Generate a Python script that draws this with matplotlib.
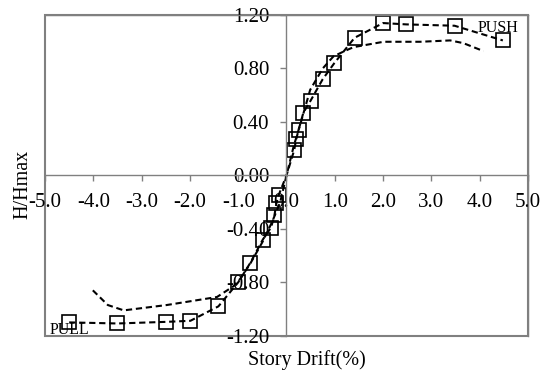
import matplotlib.pyplot as plt
from matplotlib.patches import Rectangle

# envelope with markers (pull side then push side)
drift_env = [-4.50, -3.50, -2.50, -1.99, -1.41, -1.00, -0.75, -0.49, -0.32, -0.25, -0.21, -0.165,
             0.0, 0.16, 0.20, 0.25, 0.35, 0.50, 0.75, 0.99, 1.41, 2.00, 2.48, 3.48, 4.48]
ratio_env = [-1.10, -1.108, -1.096, -1.088, -0.98, -0.80, -0.655, -0.48, -0.39, -0.30, -0.21, -0.15,
             0.0, 0.19, 0.27, 0.34, 0.47, 0.56, 0.72, 0.84, 1.03, 1.14, 1.13, 1.12, 1.01]

# second curve, no markers
drift_b = [-4.01, -3.70, -3.37, -2.48, -1.44, -1.10, -0.95, -0.75, -0.50, -0.30, -0.13, 0.0,
           0.15, 0.30, 0.49, 0.75, 0.97, 1.20, 1.39, 2.01, 2.77, 3.39, 3.66, 4.08]
ratio_b = [-0.86, -0.97, -1.01, -0.97, -0.91, -0.83, -0.77, -0.66, -0.50, -0.35, -0.20, 0.0,
           0.22, 0.40, 0.64, 0.80, 0.89, 0.93, 0.96, 1.00, 1.00, 1.01, 0.99, 0.93]

xticks = [-5, -4, -3, -2, -1, 0, 1, 2, 3, 4, 5]
yticks = [-1.2, -0.8, -0.4, 0.0, 0.4, 0.8, 1.2]

plt.rcParams['font.family'] = ['Liberation Serif', 'DejaVu Serif']

fig = plt.figure(figsize=(5.51, 3.76), dpi=100)
ax = fig.add_axes([0.0817, 0.107, 0.8765, 0.853])

grey = '#808080'
marks = [i for i in range(len(drift_env)) if drift_env[i] != 0.0]
ax.plot(drift_b, ratio_b, color='black', lw=1.5, ls=(0, (3, 1.8)))
ax.plot(drift_env, ratio_env, color='black', lw=1.5, ls=(0, (3, 1.8)),
        marker='s', ms=9.5, mfc='none', mec='black', mew=1.2, markevery=marks)

ax.set_xlim(-5, 5)
ax.set_ylim(-1.2, 1.2)
ax.spines['left'].set_position('zero')
ax.spines['bottom'].set_position('zero')
for s in ax.spines.values():
    s.set_color(grey)
    s.set_linewidth(1.0)
ax.add_patch(Rectangle((0, 0), 1, 1, transform=ax.transAxes, fill=False,
                       edgecolor=grey, lw=1.5, clip_on=False))

ax.set_xticks(xticks)
ax.set_xticklabels(['%.1f' % v for v in xticks])
ax.set_yticks(yticks)
ax.set_yticklabels(['%.2f' % v for v in yticks])
ax.tick_params(axis='both', direction='out', color=grey, length=4.5, width=1.0, labelsize=15)
ax.tick_params(axis='x', pad=8)
ax.tick_params(axis='y', pad=8)

ax.text(4.37, 1.105, 'PUSH', fontsize=11.5, ha='center', va='center')
ax.text(-4.5, -1.16, 'PULL', fontsize=11.5, ha='center', va='center')

fig.text(307 / 551, 1 - 360 / 376, 'Story Drift(%)', fontsize=14.5, ha='center', va='center')
fig.text(23 / 551, 1 - 184 / 376, 'H/Hmax', fontsize=14.5, ha='center', va='center', rotation=90)

fig.savefig('out.png', dpi=100)
